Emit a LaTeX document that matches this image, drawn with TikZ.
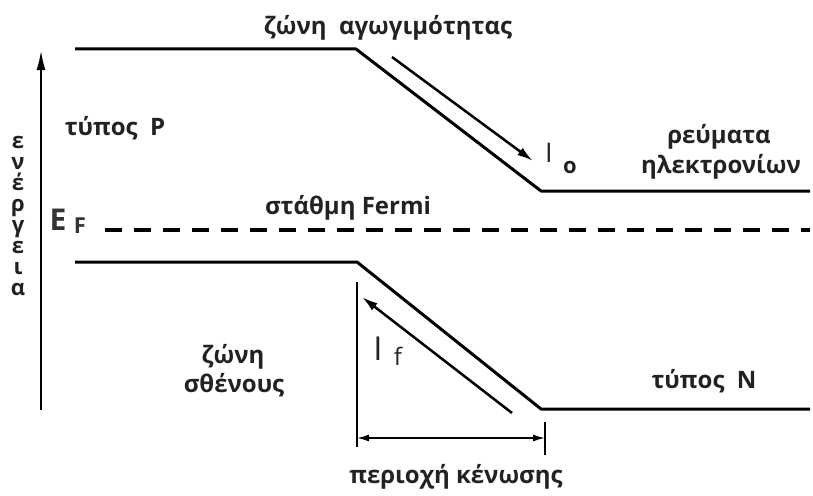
\documentclass[tikz,border=0pt]{standalone}
\usepackage{fontspec}
\setmainfont{Open Sans}
\usetikzlibrary{arrows.meta}
\definecolor{txt}{HTML}{222222}
\definecolor{gtxt}{HTML}{333333}
\tikzset{
  lbl/.style={font=\bfseries\fontsize{24}{28}\selectfont, text=txt, inner sep=0pt, anchor=base},
  band/.style={line width=3pt, black, line join=round},
  arr/.style={line width=2.5pt, -{Latex[length=16pt,width=9pt]}},
  thin/.style={line width=1.6pt, black}
}
\begin{document}
\begin{tikzpicture}[x=1pt,y=-1pt]
\useasboundingbox (0,0) rectangle (813,495);
% axis
\coordinate (ax0) at (41,410);
\coordinate (ax1) at (41,50);
\draw[line width=2.4pt, -{Latex[length=20pt,width=9pt]}] (ax0) -- (ax1);
% conduction band
\coordinate (c0) at (75,49);
\coordinate (c1) at (356,49);
\coordinate (c2) at (541,191);
\coordinate (c3) at (810,191);
\draw[band] (c0) -- (c1) -- (c2) -- (c3);
% valence band
\coordinate (v0) at (75,262);
\coordinate (v1) at (357,262);
\coordinate (v2) at (541,409);
\coordinate (v3) at (810,409);
\draw[band] (v0) -- (v1) -- (v2) -- (v3);
% Fermi level
\coordinate (f0) at (105,230);
\coordinate (f1) at (810,230);
\draw[line width=4pt, dash pattern=on 17pt off 12pt] (f0) -- (f1);
% current arrows
\coordinate (a0) at (392,57);
\coordinate (a1) at (533,161);
\draw[arr] (a0) -- (a1);
\coordinate (b0) at (512,413);
\coordinate (b1) at (362,297);
\draw[arr] (b0) -- (b1);
% depletion region
\coordinate (d0) at (357,282);
\coordinate (d1) at (357,447);
\coordinate (d2) at (357,438);
\coordinate (d3) at (545,438);
\coordinate (d4) at (545,422);
\coordinate (d5) at (545,455);
\draw[thin] (d0) -- (d1);
\draw[thin] (d4) -- (d5);
\draw[thin, {Latex[length=12pt,width=7pt]}-{Latex[length=12pt,width=7pt]}] (d2) -- (d3);
% labels
\node[lbl] (tcb) at (388,35) {ζώνη\ \ αγωγιμότητας};
\node[lbl] (tp) at (115,135) {τύπος\ \ P};
\node[lbl] (tr1) at (719,143) {ρεύματα};
\node[lbl] (tr2) at (721,173) {ηλεκτρονίων};
\node[lbl] (tf) at (348,214) {στάθμη Fermi};
\node[lbl] (tv1) at (233,363) {ζώνη};
\node[lbl] (tv2) at (234,392) {σθένους};
\node[lbl] (tn) at (704,388) {τύπος\ \ Ν};
\node[lbl] (td) at (456,483) {περιοχή κένωσης};
\node[inner sep=0pt, text=txt, align=center, font=\bfseries\fontsize{22}{21}\selectfont] (te) at (18,216) {ε\\ν\\έ\\ρ\\γ\\ε\\ι\\α};
\node[inner sep=0pt, text=gtxt, font=\bfseries\fontsize{30}{32}\selectfont, anchor=base] (tE) at (58,230) {E};
\node[inner sep=0pt, text=gtxt, font=\bfseries\fontsize{22}{24}\selectfont, anchor=base] (tF) at (80,233) {F};
\node[inner sep=0pt, text=txt, font=\fontsize{27}{28}\selectfont, anchor=base] (tI0) at (549,162) {I};
\node[inner sep=0pt, text=txt, font=\bfseries\fontsize{22}{24}\selectfont, anchor=base] (tI0s) at (570,173) {o};
\node[inner sep=0pt, text=txt, font=\fontsize{33}{34}\selectfont, anchor=base] (tI1) at (378,360) {I};
\node[inner sep=0pt, text=txt, font=\fontsize{24}{26}\selectfont, anchor=base] (tI1s) at (398,365) {f};
\end{tikzpicture}
\end{document}
